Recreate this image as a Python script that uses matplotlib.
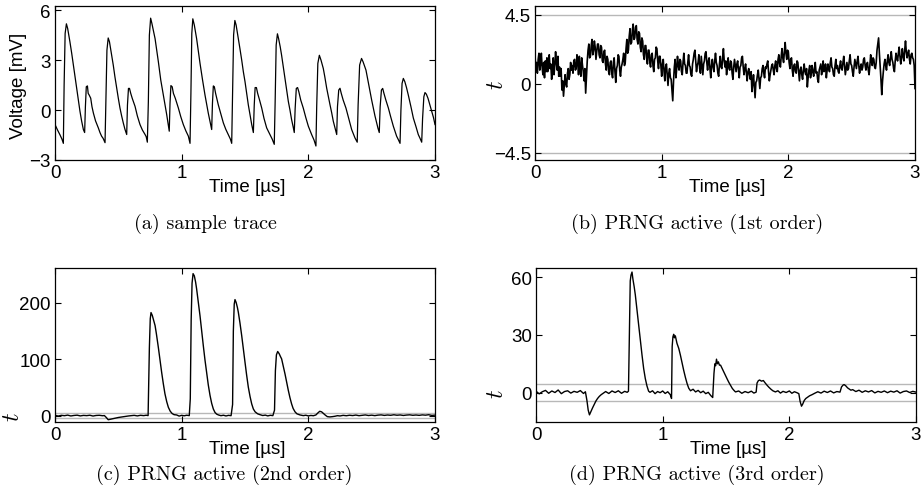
import numpy as np
import matplotlib
matplotlib.use('Agg')
import matplotlib.pyplot as plt

plt.rcParams['font.family'] = 'Liberation Sans'
plt.rcParams['mathtext.fontset'] = 'cm'
plt.rcParams['font.size'] = 13.5

# x axis (time in us)
x_ticks = [0, 1, 2, 3]
x_label = 'Time [µs]'
thresholds = [4.5, -4.5]

# (a) sample trace, voltage in mV
a_t = [0.0, 0.02, 0.04, 0.055, 0.066, 0.072, 0.08, 0.09, 0.1, 0.118, 0.132, 0.145, 0.158, 0.171, 0.184, 0.197,
       0.21, 0.224, 0.234, 0.24, 0.247, 0.256, 0.262, 0.27, 0.282, 0.292, 0.303, 0.32, 0.342, 0.355, 0.368, 0.38,
       0.395, 0.402, 0.41, 0.42, 0.43, 0.445, 0.46, 0.473, 0.487, 0.5, 0.513, 0.526, 0.539, 0.552, 0.566, 0.572,
       0.58, 0.588, 0.598, 0.61, 0.632, 0.65, 0.671, 0.69, 0.711, 0.72, 0.729, 0.737, 0.745, 0.755, 0.765, 0.79,
       0.803, 0.816, 0.835, 0.855, 0.868, 0.882, 0.902, 0.908, 0.915, 0.925, 0.935, 0.95, 0.974, 0.993, 1.013,
       1.033, 1.053, 1.066, 1.073, 1.08, 1.088, 1.1, 1.118, 1.132, 1.145, 1.165, 1.184, 1.197, 1.21, 1.224, 1.237,
       1.243, 1.25, 1.258, 1.268, 1.289, 1.31, 1.329, 1.348, 1.368, 1.385, 1.395, 1.402, 1.41, 1.42, 1.43, 1.445,
       1.46, 1.474, 1.487, 1.5, 1.513, 1.526, 1.54, 1.553, 1.566, 1.573, 1.58, 1.59, 1.6, 1.615, 1.632, 1.65,
       1.671, 1.697, 1.715, 1.731, 1.738, 1.746, 1.756, 1.765, 1.778, 1.789, 1.802, 1.816, 1.829, 1.842, 1.855,
       1.868, 1.88, 1.889, 1.896, 1.905, 1.915, 1.925, 1.94, 1.96, 1.98, 2.0, 2.026, 2.045, 2.06, 2.066, 2.075,
       2.087, 2.1, 2.118, 2.13, 2.145, 2.158, 2.171, 2.184, 2.197, 2.21, 2.224, 2.23, 2.24, 2.25, 2.26, 2.275,
       2.297, 2.32, 2.342, 2.368, 2.386, 2.393, 2.405, 2.42, 2.432, 2.455, 2.47, 2.487, 2.5, 2.513, 2.526, 2.539,
       2.55, 2.56, 2.567, 2.577, 2.587, 2.597, 2.612, 2.632, 2.65, 2.671, 2.697, 2.712, 2.724, 2.731, 2.74, 2.75,
       2.762, 2.775, 2.789, 2.81, 2.829, 2.85, 2.868, 2.882, 2.895, 2.902, 2.912, 2.921, 2.932, 2.945, 2.96,
       2.974, 2.988, 3.0]
a_v = [-0.87, -1.2, -1.5, -1.75, -2.0, 1.5, 4.6, 5.18, 4.9, 4.09, 3.4, 2.7, 2.0, 1.31, 0.6, -0.07,
       -0.65, -1.17, -1.35, 0.2, 1.4, 1.45, 1.0, 0.9, 0.71, 0.2, -0.18, -0.65, -1.07, -1.35, -1.57, -1.7,
       -1.96, 0.5, 3.6, 4.33, 4.1, 3.4, 2.7, 2.0, 1.31, 0.7, 0.12, -0.35, -0.77, -1.15, -1.47, 0.3,
       1.3, 1.3, 1.0, 0.7, 0.22, -0.35, -0.87, -1.2, -1.47, -1.6, -1.93, 0.5, 4.5, 5.52, 5.2, 4.29,
       3.6, 2.9, 1.8, 0.91, 0.3, -0.28, -1.27, 0.4, 1.47, 1.4, 1.0, 0.7, 0.12, -0.4, -0.87,
       -1.25, -1.57, -2.0, 1.0, 4.6, 5.48, 5.1, 4.29, 3.5, 2.8, 1.8, 0.91, 0.35, -0.18, -0.7, -1.17,
       0.4, 1.45, 1.4, 1.0, 0.32, -0.25, -0.77, -1.15, -1.47, -1.75, -2.0, 1.0, 4.5, 5.38, 5.1, 4.4,
       3.69, 3.0, 2.3, 1.71, 1.0, 0.32, -0.3, -0.87, -1.35, 0.3, 1.35, 1.35, 1.0, 0.6, 0.12, -0.5,
       -1.07, -1.47, -1.75, -2.06, 0.5, 3.9, 4.58, 4.3, 3.8, 3.29, 2.6, 1.9, 1.2, 0.52, 0.0,
       -0.58, -1.0, -1.35, 0.1, 1.3, 1.35, 1.1, 0.6, 0.12, -0.45, -0.97, -1.47, -1.8, -2.16, 0.2, 2.8,
       3.29, 3.0, 2.5, 2.0, 1.31, 0.8, 0.32, -0.15, -0.67, -1.05, -1.47, 0.2, 1.2, 1.31, 1.0, 0.6,
       0.12, -0.55, -1.17, -1.67, -1.93, 0.3, 2.7, 3.1, 2.9, 2.4, 1.8, 1.11, 0.6, 0.12, -0.35, -0.77,
       -1.1, -1.35, 0.2, 1.2, 1.3, 1.0, 0.6, 0.12, -0.4, -0.97, -1.57, -1.8, -2.0, 0.0, 1.6, 1.9,
       1.7, 1.35, 0.91, 0.2, -0.48, -1.0, -1.47, -1.7, -1.93, -0.5, 0.8, 1.05, 0.95, 0.7, 0.3,
       -0.08, -0.45, -0.87]

# (b) 1st order t-statistic, sampled evenly over 0..3 us
b_v = [1.9, 0.9, 1.4, 0.7, 1.6, 2.0, 0.9, 1.3, 2.0, 1.1, 0.6, 1.4, 0.4, 1.5, 0.8, 1.7,
       0.8, 1.6, 1.9, 1.0, 1.3, 0.3, 0.9, 1.7, 0.6, 1.2, 2.1, 1.4, 0.9, 1.8, 0.5, 1.1,
       0.5, 1.0, -0.4, 0.2, -0.8, -0.1, 0.6, 0.0, -0.2, 0.7, 1.0, 0.3, 0.6, 1.4, 0.9, 1.2,
       0.7, 1.5, 1.6, 0.9, 1.0, 1.9, 1.4, 0.6, 1.8, 1.1, 0.5, 1.7, 1.2, 0.8, 0.2, 1.0,
       -0.6, 0.4, 1.5, 2.2, 2.6, 1.7, 1.8, 2.5, 2.9, 1.9, 2.2, 2.8, 2.4, 1.6, 2.1, 2.6,
       2.6, 1.9, 1.7, 2.5, 2.4, 1.5, 1.4, 2.1, 2.2, 1.3, 0.9, 1.8, 1.6, 0.8, 0.6, 1.4,
       1.5, 0.7, 0.4, 1.4, 1.7, 0.8, 0.1, 1.0, 1.2, 1.9, 1.8, 0.9, 0.5, 1.1, 1.3, 1.6,
       2.0, 1.2, 1.4, 2.3, 2.9, 2.0, 2.2, 3.1, 3.6, 2.6, 2.7, 3.5, 3.9, 2.9, 3.0, 3.7,
       3.8, 2.9, 2.6, 3.4, 3.3, 2.4, 2.1, 3.0, 2.8, 1.9, 1.6, 2.5, 2.5, 1.7, 1.3, 2.2,
       2.2, 1.4, 1.1, 1.9, 2.0, 1.2, 0.8, 1.6, 1.7, 2.4, 2.3, 1.5, 1.0, 1.8, 1.8, 1.2,
       0.5, 1.3, 1.6, 0.8, 0.2, 1.1, 1.3, 0.6, -0.1, 0.7, 1.0, 0.4, 0.3, -0.4, -1.1, 0.2,
       1.1, 1.6, 0.4, 1.0, 1.8, 1.2, 0.9, 1.6, 1.5, 0.8, 0.6, 1.4, 2.0, 1.3, 1.2, 0.7,
       0.7, 1.4, 1.9, 1.2, 1.1, 0.6, 0.5, 1.3, 1.6, 2.0, 2.2, 1.5, 0.8, 1.2, 1.4, 1.9,
       1.0, 0.7, 1.8, 1.2, 0.6, 1.3, 1.5, 2.0, 2.1, 1.4, 0.9, 1.5, 1.7, 1.0, 0.4, 1.2,
       1.6, 1.1, 0.8, 1.5, 2.0, 1.4, 1.2, 0.7, 0.5, 1.3, 1.8, 1.1, 1.0, 1.7, 2.3, 1.5,
       1.1, 1.5, 0.6, 1.2, 1.7, 1.0, 0.9, 1.5, 1.4, 0.7, 0.3, 1.1, 1.6, 1.2, 0.8, 1.3,
       1.5, 0.9, 0.4, 1.1, 1.2, 1.7, 1.8, 1.1, 0.6, 1.0, 1.3, 0.7, 0.2, 0.8, 1.0, 0.6,
       0.3, 0.8, -0.5, 0.0, 0.6, -0.2, -0.9, 0.1, 0.2, 0.6, 0.9, 0.3, -0.3, 0.4, 0.5, 1.0,
       1.2, 0.7, 0.4, 1.1, 1.0, 1.3, 1.5, 0.8, 0.2, 0.6, 0.9, 1.2, 1.3, 0.9, 0.6, 1.2,
       1.5, 1.0, 0.8, 1.6, 1.9, 1.3, 1.1, 1.8, 2.3, 1.7, 1.4, 2.1, 2.7, 2.0, 1.6, 2.2,
       2.1, 1.4, 1.0, 1.6, 1.7, 0.9, 0.5, 1.2, 1.3, 0.8, 0.7, 1.5, 1.4, 0.8, 0.2, 0.9,
       1.1, 0.6, 0.3, 0.9, 1.3, 0.8, 0.6, 1.0, -0.2, 0.4, 0.9, 1.2, 0.4, 0.7, 1.2, 0.8,
       0.5, 1.0, 1.4, 0.7, 0.8, 0.3, 0.1, 0.9, 1.1, 1.3, 0.6, 1.0, 1.5, 0.8, 0.9, 1.3,
       0.4, 0.9, 1.3, 1.0, 0.8, 1.4, 1.7, 1.1, 1.0, 0.6, 0.5, 1.2, 1.6, 1.0, 1.2, 0.8,
       0.7, 1.2, 1.5, 1.0, 0.9, 1.4, 1.8, 1.2, 0.6, 1.0, 1.4, 0.9, 1.0, 1.5, 1.9, 1.3,
       1.2, 0.8, 0.5, 1.1, 1.6, 1.3, 1.0, 1.5, 1.8, 1.2, 0.7, 1.1, 1.3, 0.9, 1.1, 1.6,
       1.7, 1.2, 0.9, 1.3, 1.4, 0.9, 0.6, 1.2, 1.9, 1.5, 1.2, 1.7, 1.6, 1.1, 1.0, 1.4,
       2.2, 2.6, 3.0, 2.0, 1.2, 0.3, -0.7, 0.2, 0.8, 1.3, 1.6, 1.2, 0.9, 1.5, 1.9, 1.4,
       1.2, 1.7, 2.1, 1.6, 1.4, 1.0, 0.8, 1.5, 2.0, 1.7, 1.5, 2.0, 2.4, 1.8, 1.3, 1.7,
       2.3, 1.8, 1.5, 2.2, 2.8, 2.1, 1.7, 2.0, 2.2, 1.6, 1.3, 1.9, 2.0, 1.7, 1.6, 1.2,
       -0.3]

# (c) 2nd order t-statistic
c_t = [0.0, 0.025, 0.05, 0.075, 0.1, 0.125, 0.15, 0.175, 0.2, 0.225, 0.25, 0.275, 0.3, 0.325, 0.35, 0.375, 0.39,
       0.405, 0.42, 0.44, 0.46, 0.48, 0.5, 0.52, 0.54, 0.56, 0.58, 0.6,
       0.625, 0.65, 0.675, 0.7, 0.72, 0.735,
       0.745, 0.752, 0.758, 0.768, 0.78, 0.79, 0.8, 0.816, 0.83, 0.842, 0.855, 0.868, 0.882, 0.895, 0.91, 0.925,
       0.94, 0.96, 0.98, 1.0, 1.02, 1.04, 1.06,
       1.068, 1.075, 1.082, 1.09, 1.1, 1.11, 1.118, 1.13, 1.145, 1.158, 1.171, 1.184, 1.197, 1.21, 1.224, 1.237,
       1.25, 1.263, 1.276, 1.29, 1.31, 1.33, 1.35, 1.37, 1.39,
       1.402, 1.408, 1.415, 1.421, 1.43, 1.44, 1.447, 1.46, 1.474, 1.487, 1.5, 1.513, 1.526, 1.54, 1.553, 1.566,
       1.58, 1.6, 1.618, 1.64, 1.66, 1.68, 1.7, 1.72,
       1.733, 1.74, 1.748, 1.758, 1.77, 1.78, 1.789, 1.8, 1.816, 1.83, 1.842, 1.855, 1.868, 1.88, 1.895, 1.91,
       1.934, 1.96, 1.98, 2.0, 2.02, 2.04, 2.06,
       2.075, 2.09, 2.105, 2.12, 2.135, 2.15, 2.17, 2.19, 2.21, 2.23, 2.25,
       2.275, 2.3, 2.325, 2.35, 2.375, 2.4, 2.425, 2.45, 2.475, 2.5, 2.525, 2.55, 2.575, 2.6, 2.625, 2.65,
       2.675, 2.7, 2.725, 2.75, 2.775, 2.8, 2.825, 2.85, 2.875, 2.9, 2.925, 2.95, 2.975, 3.0]
c_v = [1.0, -0.5, 0.8, 0.2, 1.2, -0.3, 0.6, 1.1, -0.2, 0.7, 0.3, 1.0, -0.4, 0.6, 0.9, 0.1, 0.4,
       -3.0, -7.0, -6.0, -4.8, -4.0, -3.0, -2.3, -1.6, -1.0, -0.3, 0.2,
       0.8, -0.2, 0.9, 0.3, 1.0, 0.4,
       120, 172, 183, 178, 168, 160, 146, 121, 97, 77, 57, 39, 25, 15, 8, 4,
       2, 1.5, -0.5, 0.8, 0.0, 1.0, 0.3,
       30, 170, 235, 252, 248, 237, 225, 204, 177, 150, 124, 99, 77, 55, 36, 22,
       12, 6, 3, 1.5, 0.2, 1.0, -0.3, 0.8, 0.2,
       20, 150, 198, 206, 201, 192, 184, 165, 142, 118, 95, 72, 51, 34, 21, 12,
       7, 3.5, 2, 0.5, 1.2, -0.2, 0.9, 0.3,
       10, 80, 108, 114, 110, 105, 101, 90, 74, 58, 45, 32, 21, 13, 7, 3.5,
       1.5, 0.3, 1.0, -0.2, 0.6, 0.1, 1.5,
       5, 8, 7, 4, 1, -1.5, -2.0, -1.5, -0.8, 0.2, -0.3,
       0.8, 0.1, 1.0, 0.4, 1.3, 0.2, 0.9, 1.5, 0.5, 1.1, 0.3, 1.2, 1.6, 0.7, 1.4, 0.9,
       1.8, 1.0, 1.5, 0.6, 1.3, 1.7, 0.9, 1.4, 0.8, 1.6, 1.1, 1.9, 0.7, 1.2]

# (d) 3rd order t-statistic
d_t = [0.0, 0.025, 0.05, 0.075, 0.1, 0.125, 0.15, 0.175, 0.2, 0.225, 0.25, 0.275, 0.3, 0.325, 0.35, 0.375, 0.39,
       0.402, 0.412, 0.422, 0.435, 0.447, 0.46, 0.473, 0.486, 0.5, 0.515, 0.53, 0.55, 0.575, 0.6, 0.625, 0.65,
       0.675, 0.7, 0.72, 0.73,
       0.737, 0.744, 0.75, 0.758, 0.765, 0.775, 0.784, 0.797, 0.81, 0.823, 0.837, 0.85, 0.863, 0.876, 0.889, 0.9,
       0.92, 0.94, 0.96, 0.98, 1.0, 1.02, 1.04, 1.06, 1.07,
       1.075, 1.081, 1.087, 1.093, 1.1, 1.113, 1.127, 1.14, 1.153, 1.166, 1.18, 1.193, 1.206, 1.22, 1.24, 1.26,
       1.28, 1.3, 1.32, 1.34, 1.36, 1.38, 1.395,
       1.405, 1.412, 1.418, 1.425, 1.432, 1.44, 1.448, 1.457, 1.47, 1.483, 1.496, 1.51, 1.523, 1.536, 1.55, 1.563,
       1.575, 1.6, 1.625, 1.65, 1.675, 1.7, 1.72, 1.738,
       1.745, 1.755, 1.765, 1.78, 1.795, 1.81, 1.825, 1.839, 1.855, 1.87, 1.89, 1.91, 1.93, 1.95, 1.975, 2.0,
       2.02, 2.04, 2.06, 2.075,
       2.085, 2.096, 2.105, 2.118, 2.13, 2.145, 2.16, 2.18, 2.2, 2.225, 2.25, 2.275, 2.3, 2.325, 2.35, 2.375, 2.4,
       2.412, 2.425, 2.433, 2.445, 2.46, 2.475, 2.486, 2.5, 2.525, 2.55, 2.575, 2.6, 2.625, 2.65, 2.675, 2.7,
       2.725, 2.75, 2.775, 2.8, 2.825, 2.85, 2.875, 2.9, 2.925, 2.95, 2.975, 3.0]
d_v = [0.8, -0.6, 0.5, 1.2, -0.3, 0.9, 0.1, 1.4, -0.5, 0.6, 1.0, -0.2, 0.7, 0.2, 1.1, -0.4, 0.5,
       -4, -9, -11.5, -9.5, -7.8, -6.0, -4.3, -3.0, -1.9, -1.0, -0.3, 0.6, -0.4, 0.9, 0.1, 1.0,
       -0.3, 0.7, 0.2, 0.8,
       30, 58, 61, 62.6, 59, 55, 50.8, 43, 35, 27, 19.5, 12.5, 7.3, 3.5, 0.8, 0.2,
       1.0, -0.5, 0.6, 0.0, 0.9, -0.4, 0.5, -1.0, -3.0,
       24, 29, 30.3, 28.5, 29.5, 25.6, 23, 19.5, 15.5, 11.6, 7.8, 4.7, 2.3, 1.0, 1.8, 0.4,
       1.2, 0.0, 0.8, -0.5, 0.2, -1.5, -2.5,
       10, 15, 14, 17.4, 15.0, 16.0, 14.3, 14.3, 12.5, 10.8, 9.0, 7.0, 5.3, 3.8, 2.2, 1.2,
       0.4, 0.9, -0.3, 0.6, 0.0, 0.8, -0.2, 0.3,
       5, 6.2, 6.6, 6.0, 6.3, 5.0, 3.8, 2.8, 1.8, 1.0, 0.4, 1.0, -0.2, 0.7, 0.1, 0.9,
       -0.3, 0.5, 0.0, -0.5,
       -4.5, -7.0, -6.0, -4.0, -3.0, -2.3, -1.6, -1.0, -0.3, 0.5, -0.2, 0.8, 0.1, 0.9, -0.1, 0.6, 0.3,
       3.0, 4.0, 4.2, 3.6, 2.5, 1.8, 1.3, 1.6, 0.6, 1.3, 0.2, 1.0, 0.4, 1.1, -0.1, 0.7,
       0.2, 0.9, 0.0, 0.8, 0.3, 1.0, -0.2, 0.6, 0.9, 0.1, 0.7, 0.3]

W, H = 922, 502
fig = plt.figure(figsize=(W / 100, H / 100), dpi=100)


def make_axes(left, top):
    return fig.add_axes([left / W, 1 - (top + 154) / H, 380 / W, 154 / H])


def style(ax, ylim, yticks, yticklabels, ylabel, lab_x, lab_y, lab_size=13.5):
    ax.set_xlim(0, 3)
    ax.set_ylim(*ylim)
    ax.set_xticks(x_ticks)
    ax.set_yticks(yticks)
    ax.set_yticklabels(yticklabels)
    ax.tick_params(direction='in', top=True, right=True, length=4, width=0.8, pad=3)
    for s in ax.spines.values():
        s.set_linewidth(0.9)
    ax.set_xlabel(x_label)
    ax.xaxis.set_label_coords(0.505, -0.12)
    ax.set_ylabel(ylabel, fontsize=lab_size)
    ax.yaxis.set_label_coords(lab_x, lab_y)


def zero_frac(ylim):
    return (0 - ylim[0]) / (ylim[1] - ylim[0])


# (a)
ax = make_axes(55, 7)
ax.plot(a_t, a_v, color='black', lw=0.9)
style(ax, (-3, 6.25), [-3, 0, 3, 6], ['\u22123', '0', '3', '6'], 'Voltage [mV]', -0.074, 0.49)

# (b)
ylim_b = (-4.96, 5.08)
ax = make_axes(535, 7)
for th in thresholds:
    ax.axhline(th, color='#b8b8b8', lw=1, zorder=1)
ax.plot(np.linspace(0, 3, len(b_v)), b_v, color='black', lw=1.2, zorder=2)
style(ax, ylim_b, [-4.5, 0, 4.5], ['\u22124.5', '0', '4.5'], '$t$', -0.071, zero_frac(ylim_b), 17)

# (c)
ylim_c = (-11, 262)
ax = make_axes(55, 269)
for th in thresholds:
    ax.axhline(th, color='#b8b8b8', lw=1, zorder=1)
ax.plot(c_t, c_v, color='black', lw=1.0, zorder=2)
style(ax, ylim_c, [0, 100, 200], ['0', '100', '200'], '$t$', -0.082, zero_frac(ylim_c), 17)

# (d)
ylim_d = (-15.2, 64.7)
ax = make_axes(536, 269)
for th in thresholds:
    ax.axhline(th, color='#b8b8b8', lw=1, zorder=1)
ax.plot(d_t, d_v, color='black', lw=1.0, zorder=2)
style(ax, ylim_d, [0, 30, 60], ['0', '30', '60'], '$t$', -0.074, zero_frac(ylim_d), 17)

# subfigure captions
captions = ['(a) sample trace', '(b) PRNG active (1st order)',
            '(c) PRNG active (2nd order)', '(d) PRNG active (3rd order)']
cap_pos = [(205, 224), (697, 224), (224, 475), (697, 475)]
for text, (cx, cy) in zip(captions, cap_pos):
    fig.text(cx / W, 1 - cy / H, text, ha='center', va='center', family='cmr10', size=14.5)

fig.savefig('out.png', dpi=100)
